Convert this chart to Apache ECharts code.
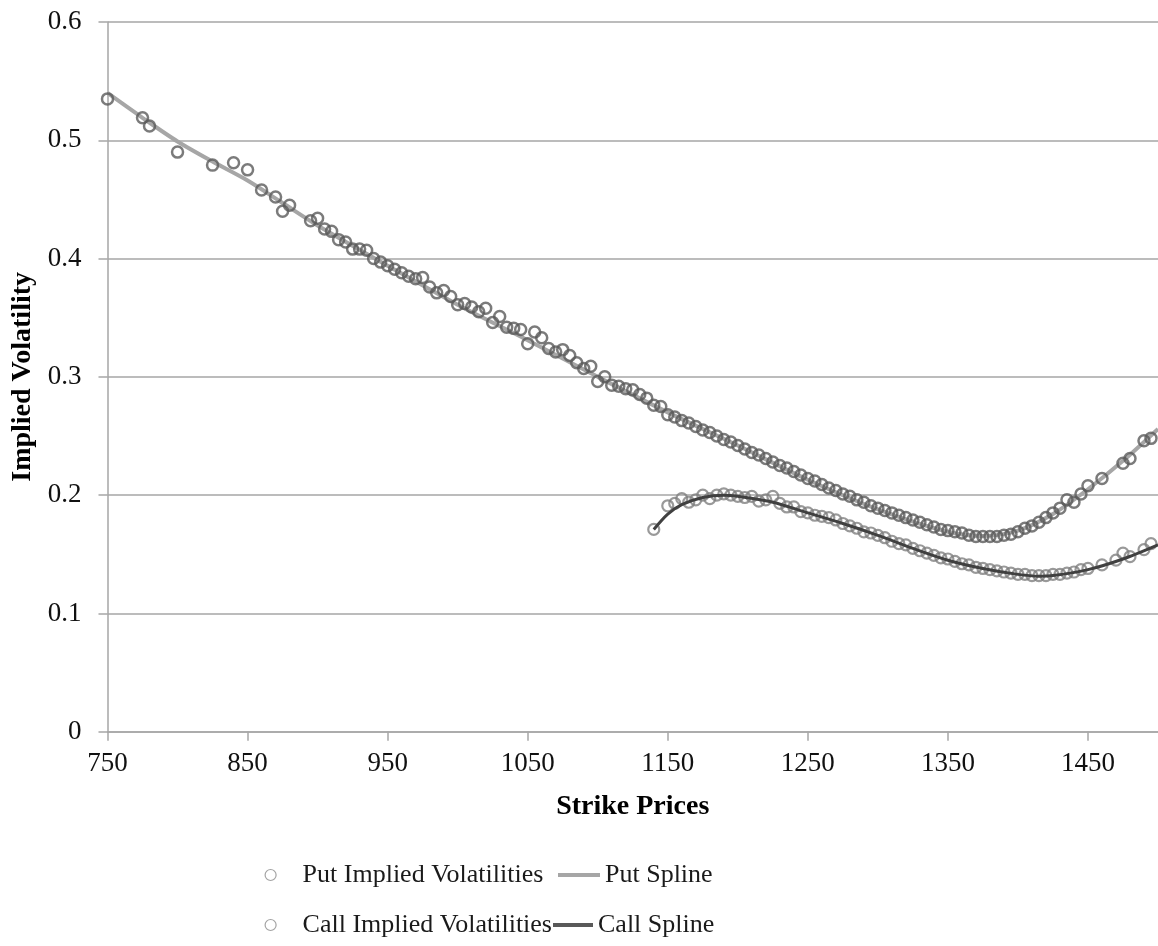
<!DOCTYPE html>
<html>
<head>
<meta charset="utf-8">
<script src="https://cdn.jsdelivr.net/npm/echarts@6/dist/echarts.min.js"></script>
<style>
html,body{margin:0;padding:0;background:#fff;}
#chart{width:1158px;height:946px;}
</style>
</head>
<body>
<div id="chart"></div>
<script>
// ---- Data ----
const putStrikes = [750,775,780,800,825,840,850,860,870,875,880,895,900,905,910,915,920,925,930,935,940,945,950,955,960,965,970,975,980,985,990,995,1000,1005,1010,1015,1020,1025,1030,1035,1040,1045,1050,1055,1060,1065,1070,1075,1080,1085,1090,1095,1100,1105,1110,1115,1120,1125,1130,1135,1140,1145,1150,1155,1160,1165,1170,1175,1180,1185,1190,1195,1200,1205,1210,1215,1220,1225,1230,1235,1240,1245,1250,1255,1260,1265,1270,1275,1280,1285,1290,1295,1300,1305,1310,1315,1320,1325,1330,1335,1340,1345,1350,1355,1360,1365,1370,1375,1380,1385,1390,1395,1400,1405,1410,1415,1420,1425,1430,1435,1440,1445,1450,1460,1475,1480,1490,1495];
const putVols = [0.535,0.519,0.512,0.490,0.479,0.481,0.475,0.458,0.452,0.440,0.445,0.432,0.434,0.425,0.423,0.416,0.414,0.408,0.408,0.407,0.400,0.397,0.394,0.391,0.388,0.385,0.383,0.384,0.376,0.371,0.373,0.368,0.361,0.362,0.359,0.355,0.358,0.346,0.351,0.342,0.341,0.340,0.328,0.338,0.333,0.324,0.321,0.323,0.318,0.312,0.307,0.309,0.296,0.300,0.293,0.292,0.290,0.289,0.285,0.282,0.276,0.275,0.268,0.266,0.263,0.261,0.258,0.255,0.253,0.250,0.247,0.245,0.242,0.239,0.236,0.234,0.231,0.228,0.225,0.223,0.220,0.217,0.214,0.212,0.209,0.206,0.204,0.201,0.199,0.196,0.194,0.191,0.189,0.187,0.185,0.183,0.181,0.179,0.177,0.175,0.173,0.171,0.170,0.169,0.168,0.166,0.165,0.165,0.165,0.165,0.166,0.167,0.169,0.172,0.174,0.177,0.181,0.185,0.189,0.196,0.194,0.201,0.208,0.214,0.227,0.231,0.246,0.248];

const callStrikes = [1140,1150,1155,1160,1165,1170,1175,1180,1185,1190,1195,1200,1205,1210,1215,1220,1225,1230,1235,1240,1245,1250,1255,1260,1265,1270,1275,1280,1285,1290,1295,1300,1305,1310,1315,1320,1325,1330,1335,1340,1345,1350,1355,1360,1365,1370,1375,1380,1385,1390,1395,1400,1405,1410,1415,1420,1425,1430,1435,1440,1445,1450,1460,1470,1475,1480,1490,1495];
const callVols = [0.171,0.191,0.193,0.197,0.194,0.196,0.200,0.197,0.200,0.201,0.200,0.199,0.198,0.199,0.195,0.196,0.199,0.193,0.190,0.190,0.186,0.185,0.183,0.182,0.181,0.179,0.176,0.174,0.172,0.169,0.168,0.166,0.164,0.161,0.159,0.158,0.155,0.153,0.151,0.149,0.147,0.146,0.144,0.142,0.141,0.139,0.138,0.137,0.136,0.135,0.134,0.133,0.133,0.132,0.132,0.132,0.133,0.133,0.134,0.135,0.137,0.138,0.141,0.145,0.151,0.148,0.154,0.159];

const putSplineX = [750,775,800,825,850,875,900,950,1000,1050,1100,1150,1200,1250,1300,1350,1375,1400,1425,1450,1475,1500];
const putSplineY = [0.540,0.519,0.499,0.482,0.466,0.447,0.428,0.394,0.361,0.331,0.300,0.270,0.242,0.213,0.188,0.169,0.1655,0.170,0.184,0.205,0.229,0.256];

const callSplineX = [1140,1150,1160,1175,1190,1200,1225,1250,1275,1300,1325,1350,1375,1400,1415,1425,1450,1475,1500];
const callSplineY = [0.171,0.184,0.192,0.198,0.200,0.199,0.194,0.185,0.176,0.166,0.155,0.145,0.138,0.133,0.1315,0.132,0.137,0.146,0.158];

const xTitle = 'Strike Prices';
const yTitle = 'Implied Volatility';
const names = ['Put Implied Volatilities','Put Spline','Call Implied Volatilities','Call Spline'];

// ---- Build chart ----
const zip = (a, b) => a.map((v, i) => [v, b[i]]);
const FONT = "'Liberation Serif','Times New Roman',serif";
const GRID = '#a6a6a6';
const legendText = {fontFamily: FONT, fontSize: 26, color: '#1a1a1a'};
const lineIcon = 'path://M0,0L40,0L40,4L0,4Z';

const chart = echarts.init(document.getElementById('chart'), null, {renderer: 'canvas'});
chart.setOption({
  animation: false,
  backgroundColor: '#ffffff',
  grid: {left: 107.5, top: 22, width: 1054.5, height: 709.7, containLabel: false},
  xAxis: {
    type: 'value', min: 750, max: 1500, interval: 100,
    name: xTitle, nameLocation: 'middle', nameGap: 61,
    nameTextStyle: {fontFamily: FONT, fontSize: 28, fontWeight: 'bold', color: '#000'},
    axisLine: {show: true, lineStyle: {color: GRID, width: 1.5}},
    axisTick: {show: true, inside: false, length: 9, lineStyle: {color: GRID, width: 1.5}},
    axisLabel: {fontFamily: FONT, fontSize: 27, color: '#111', margin: 19, showMaxLabel: false,
      formatter: v => String(v)},
    splitLine: {show: false}
  },
  yAxis: {
    type: 'value', min: 0, max: 0.6, interval: 0.1,
    name: yTitle, nameLocation: 'middle', nameGap: 71, nameRotate: 90,
    nameTextStyle: {fontFamily: FONT, fontSize: 28, fontWeight: 'bold', color: '#000'},
    axisLine: {show: true, lineStyle: {color: GRID, width: 1.5}},
    axisTick: {show: true, inside: false, length: 9, lineStyle: {color: GRID, width: 1.5}},
    axisLabel: {fontFamily: FONT, fontSize: 27, color: '#111', margin: 26},
    splitLine: {show: true, lineStyle: {color: GRID, width: 1.5}}
  },
  legend: [
    {data: [{name: names[0], icon: 'circle', itemStyle: {color: 'rgba(0,0,0,0)', borderColor: '#8c8c8c', borderWidth: 1.2}}],
     left: 264.5, top: 862, itemWidth: 11, itemHeight: 11, padding: 0,
     textStyle: Object.assign({padding: [0, 0, 0, 21.5]}, legendText)},
    {data: [{name: names[1], icon: lineIcon, itemStyle: {color: '#a6a6a6', borderWidth: 0}}],
     left: 558, top: 862, itemWidth: 42, itemHeight: 14, padding: 0, textStyle: legendText},
    {data: [{name: names[2], icon: 'circle', itemStyle: {color: 'rgba(0,0,0,0)', borderColor: '#8c8c8c', borderWidth: 1.2}}],
     left: 264.5, top: 912, itemWidth: 11, itemHeight: 11, padding: 0,
     textStyle: Object.assign({padding: [0, 0, 0, 21.5]}, legendText)},
    {data: [{name: names[3], icon: lineIcon, itemStyle: {color: '#595959', borderWidth: 0}}],
     left: 553, top: 912, itemWidth: 40, itemHeight: 14, padding: 0, textStyle: legendText}
  ],
  series: [
    {
      name: names[0], type: 'scatter', data: zip(putStrikes, putVols),
      symbol: 'circle', symbolSize: 11,
      itemStyle: {color: 'rgba(0,0,0,0)', borderColor: '#5a5a5a', borderWidth: 2.5},
      z: 3
    },
    {
      name: names[1], type: 'line', data: zip(putSplineX, putSplineY),
      smooth: 0.3, symbol: 'none', showSymbol: false,
      lineStyle: {color: '#a6a6a6', width: 4}, itemStyle: {color: '#a6a6a6'},
      z: 2
    },
    {
      name: names[2], type: 'scatter', data: zip(callStrikes, callVols),
      symbol: 'circle', symbolSize: 11,
      itemStyle: {color: 'rgba(0,0,0,0)', borderColor: '#808080', borderWidth: 2.2},
      z: 3
    },
    {
      name: names[3], type: 'line', data: zip(callSplineX, callSplineY),
      smooth: 0.3, symbol: 'none', showSymbol: false,
      lineStyle: {color: '#404040', width: 3}, itemStyle: {color: '#595959'},
      z: 4
    }
  ]
});
</script>
</body>
</html>
